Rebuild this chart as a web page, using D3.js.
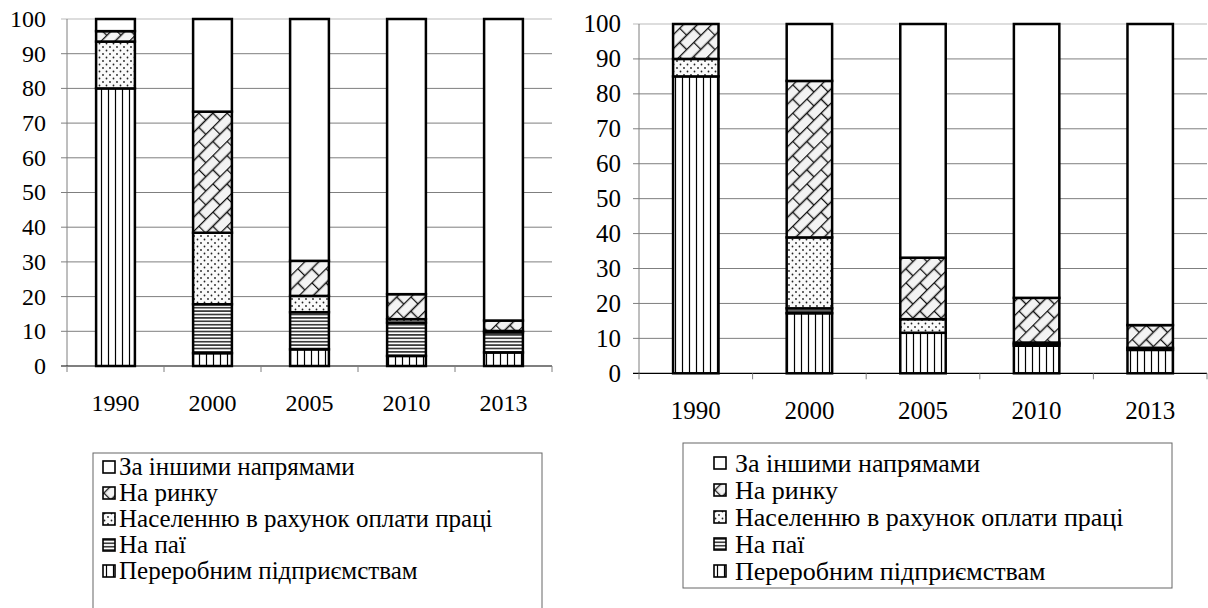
<!DOCTYPE html>
<html>
  <head>
    <meta charset="UTF-8" />
    <script src="https://d3js.org/d3.v7.min.js"></script>
    <style>
      body { margin: 0; }
      svg text { font-family: "Liberation Serif", "Times New Roman", Times; fill: #000; }
    </style>
  </head>
  <body></body>
  <script>
    var years = ["1990", "2000", "2005", "2010", "2013"];
    var seriesNames = [
      "Переробним підприємствам",
      "На паї",
      "Населенню в рахунок оплати праці",
      "На ринку",
      "За іншими напрямами"
    ];
    var yTicks = [0, 10, 20, 30, 40, 50, 60, 70, 80, 90, 100];

    // ліва діаграма
    var leftProcessing = [80, 3.7, 4.8, 2.9, 3.9];
    var leftShares = [0, 14.1, 10.7, 9.6, 5.8];
    var leftWages = [13.5, 20.6, 4.7, 1.0, 0.4];
    var leftMarket = [3, 34.9, 10.1, 7.2, 3.0];
    var leftOther = [3.5, 26.7, 69.7, 79.3, 86.9];

    // права діаграма
    var rightProcessing = [85, 17.2, 11.6, 7.9, 6.7];
    var rightShares = [0, 1.4, 0, 0.5, 0.6];
    var rightWages = [5, 20.3, 3.9, 0.4, 0];
    var rightMarket = [10, 44.8, 17.6, 12.8, 6.5];
    var rightOther = [0, 16.3, 66.9, 78.4, 86.2];

    var fills = ["url(#p-vert)", "url(#p-horiz)", "url(#p-dots)", "url(#p-brick)", "#fff"];

    var svg = d3.select("body").append("svg")
      .attr("width", 1208)
      .attr("height", 608);

    var defs = svg.append("defs");

    var pv = defs.append("pattern").attr("id", "p-vert")
      .attr("patternUnits", "userSpaceOnUse").attr("width", 7).attr("height", 10);
    pv.append("rect").attr("width", 7).attr("height", 10).attr("fill", "#fff");
    pv.append("line").attr("x1", 3.5).attr("x2", 3.5).attr("y1", 0).attr("y2", 10)
      .attr("stroke", "#000").attr("stroke-width", 1.2);

    var ph = defs.append("pattern").attr("id", "p-horiz")
      .attr("patternUnits", "userSpaceOnUse").attr("width", 10).attr("height", 3.4);
    ph.append("rect").attr("width", 10).attr("height", 3.4).attr("fill", "#fff");
    ph.append("line").attr("x1", 0).attr("x2", 10).attr("y1", 1.7).attr("y2", 1.7)
      .attr("stroke", "#000").attr("stroke-width", 1.3);

    var pd = defs.append("pattern").attr("id", "p-dots")
      .attr("patternUnits", "userSpaceOnUse").attr("width", 7).attr("height", 7);
    pd.append("rect").attr("width", 7).attr("height", 7).attr("fill", "#fafafa");
    pd.append("circle").attr("cx", 1.5).attr("cy", 1.5).attr("r", 0.9).attr("fill", "#222");
    pd.append("circle").attr("cx", 5).attr("cy", 5).attr("r", 0.9).attr("fill", "#222");

    var pb = defs.append("pattern").attr("id", "p-brick")
      .attr("patternUnits", "userSpaceOnUse").attr("width", 20).attr("height", 20)
      .attr("patternTransform", "rotate(-45)");
    pb.append("rect").attr("width", 20).attr("height", 20).attr("fill", "#f3f3f3");
    pb.append("path")
      .attr("d", "M0,0.5H20M0,10.5H20M0.5,0.5V10.5M10.5,10.5V20")
      .attr("stroke", "#111").attr("stroke-width", 1.4).attr("fill", "none");

    function drawChart(opt) {
      var rows = years.map(function (y, i) {
        var r = { year: y };
        opt.values.forEach(function (arr, k) { r[k] = arr[i]; });
        return r;
      });
      var stack = d3.stack().keys(d3.range(seriesNames.length))(rows);

      var x = d3.scaleBand().domain(years).range([opt.x0, opt.x1])
        .paddingInner(0.6).paddingOuter(0.3);
      var y = d3.scaleLinear().domain([0, 100]).range([opt.y0, opt.y1]);

      var g = svg.append("g");

      // сітка
      g.selectAll(".grid").data(yTicks.slice(1)).join("line")
        .attr("x1", opt.x0 - 6).attr("x2", opt.x1)
        .attr("y1", d => y(d)).attr("y2", d => y(d))
        .attr("stroke", d => d === 100 ? "#bbb" : "#7f7f7f")
        .attr("stroke-width", 1);

      g.append("line")
        .attr("x1", opt.x0).attr("x2", opt.x0)
        .attr("y1", y(100)).attr("y2", y(0))
        .attr("stroke", "#7f7f7f");

      g.selectAll(".ylab").data(yTicks).join("text")
        .attr("x", opt.labelX).attr("y", d => y(d) + opt.fontSize * 0.33)
        .attr("text-anchor", "end")
        .attr("font-size", opt.fontSize)
        .text(d => d);

      // стовпці
      g.selectAll(".layer").data(stack).join("g")
        .attr("fill", (d, i) => fills[i])
        .selectAll("rect").data(d => d.filter(s => s[1] - s[0] > 0)).join("rect")
        .attr("x", d => x(d.data.year))
        .attr("width", x.bandwidth())
        .attr("y", d => y(d[1]))
        .attr("height", d => y(d[0]) - y(d[1]))
        .attr("stroke", "#000")
        .attr("stroke-width", 2.5);

      // вісь X
      g.append("line")
        .attr("x1", opt.x0 - 6).attr("x2", opt.x1)
        .attr("y1", y(0)).attr("y2", y(0))
        .attr("stroke", "#000").attr("stroke-width", 1.2);

      var bounds = years.map(d => x(d) - x.step() * x.paddingInner() / 2);
      bounds.push(opt.x1);
      bounds[0] = opt.x0;
      g.selectAll(".xtick").data(bounds).join("line")
        .attr("x1", d => d).attr("x2", d => d)
        .attr("y1", y(0)).attr("y2", y(0) + 6)
        .attr("stroke", "#7f7f7f");

      g.selectAll(".xlab").data(years).join("text")
        .attr("x", d => x(d) + x.bandwidth() / 2)
        .attr("y", opt.xLabelY)
        .attr("text-anchor", "middle")
        .attr("font-size", opt.fontSize)
        .text(d => d);

      // легенда
      var lg = svg.append("g");
      lg.append("rect")
        .attr("x", opt.legend.x).attr("y", opt.legend.y)
        .attr("width", opt.legend.w).attr("height", opt.legend.h)
        .attr("fill", "#fff").attr("stroke", "#666").attr("stroke-width", 1);

      var order = d3.range(seriesNames.length).reverse();
      var item = lg.selectAll(".item").data(order).join("g")
        .attr("transform", (d, i) =>
          "translate(" + opt.legend.ix + "," + (opt.legend.iy + i * opt.legend.step) + ")");
      item.append("rect")
        .attr("x", 0).attr("y", -6).attr("width", 12).attr("height", 12)
        .attr("fill", d => fills[d])
        .attr("stroke", "#000").attr("stroke-width", 1.6);
      item.append("text")
        .attr("x", opt.legend.tx).attr("y", opt.legend.fontSize * 0.33)
        .attr("font-size", opt.legend.fontSize)
        .text(d => seriesNames[d]);
    }

    drawChart({
      values: [leftProcessing, leftShares, leftWages, leftMarket, leftOther],
      x0: 67, x1: 552, y0: 366, y1: 19,
      labelX: 46, xLabelY: 411, fontSize: 24,
      legend: { x: 93, y: 453, w: 449, h: 170, ix: 103, iy: 467, step: 26, tx: 16, fontSize: 25 }
    });

    drawChart({
      values: [rightProcessing, rightShares, rightWages, rightMarket, rightOther],
      x0: 639, x1: 1207, y0: 373.3, y1: 24,
      labelX: 621, xLabelY: 419, fontSize: 25,
      legend: { x: 683, y: 443, w: 489, h: 145, ix: 714, iy: 463, step: 27, tx: 21, fontSize: 26 }
    });
  </script>
</html>
